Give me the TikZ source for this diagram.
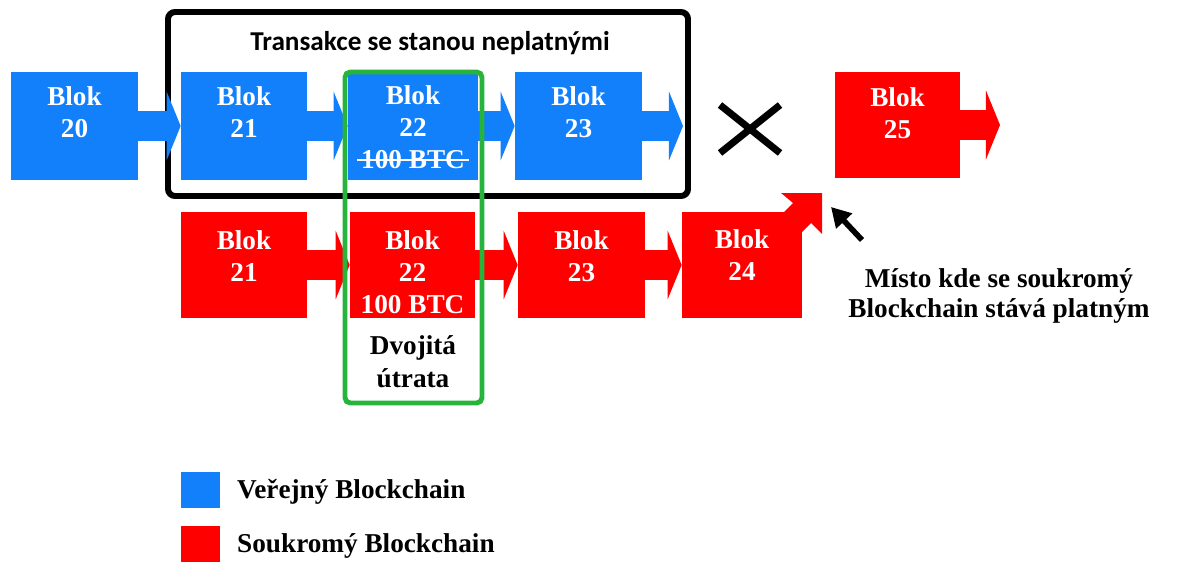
\documentclass[tikz,border=0pt]{standalone}
\usepackage{fontspec}
\setmainfont{Liberation Serif}
\newfontfamily\titlefont{Carlito}
\usetikzlibrary{arrows.meta}
\definecolor{pubblue}{RGB}{18,128,250}
\definecolor{privred}{RGB}{255,0,0}
\definecolor{dsgreen}{RGB}{40,180,60}
\newcommand{\strikeit}[1]{\setbox0\hbox{#1}\rlap{\kern-0.15em\raisebox{0.27em}{\rule{\dimexpr\wd0+0.3em\relax}{1.4pt}}}\box0}
\def\px{0.02cm}
\begin{document}
\begin{tikzpicture}[x=0.02cm,y=-0.02cm,
  blk/.style={inner sep=0pt},
  blktext/.style={inner sep=0pt, align=center, text=white,
    font=\bfseries\fontsize{15.5}{18.3}\selectfont},
  bluebk/.style={blk, fill=pubblue, minimum height=108*\px},
  redbk/.style={blk, fill=privred, minimum height=106*\px},
  bigarrow/.style={line width=17pt, -{Triangle[length=8pt,width=39pt]}},
  serifbold/.style={font=\bfseries\fontsize{15.5}{17}\selectfont},
]
\useasboundingbox (0,0) rectangle (1189,561);

% frame of invalidated transactions
\node[draw=black, line width=3.4pt, rounded corners=4pt, minimum width=520*\px, minimum height=184*\px, inner sep=0pt] (frame) at (428,104) {};
\node[font=\titlefont\bfseries\fontsize{15.5}{18}\selectfont] (title) at (430,43) {Transakce se stanou neplatnými};

% public chain
\node[bluebk, minimum width=127*\px] (b20) at (74.5,126) {};
\node[bluebk, minimum width=126*\px] (b21) at (244,126) {};
\node[bluebk, minimum width=130*\px] (b22) at (413,126) {};
\node[bluebk, minimum width=127*\px] (b23) at (578.5,126) {};
\coordinate (bend) at (683,126);

\node[blktext] (b20t) at (74.5,112) {Blok\\20};
\node[blktext] (b21t) at (244,112) {Blok\\21};
\node[blktext] (b22t) at (413,127) {Blok\\22\\\strikeit{100 BTC}};
\node[blktext] (b23t) at (578.5,112) {Blok\\23};

\draw[bigarrow, pubblue] (b20.east) -- (b21.west);
\draw[bigarrow, pubblue] (b21.east) -- (b22.west);
\draw[bigarrow, pubblue] (b22.east) -- (b23.west);
\draw[bigarrow, pubblue] (b23.east) -- (bend);

% cross
\draw[line width=4pt] (720,105) -- (780,153);
\draw[line width=4pt] (720,153) -- (780,105);

% block 25
\node[redbk, minimum width=125*\px] (r25) at (897.5,125) {};
\node[blktext] (r25t) at (897.5,113) {Blok\\25};
\coordinate (rend) at (1000,125);
\draw[bigarrow, privred] (r25.east) -- (rend);

% private chain
\node[redbk, minimum width=126*\px] (r21) at (244,265) {};
\node[redbk, minimum width=125*\px] (r22) at (412.5,265) {};
\node[redbk, minimum width=127*\px] (r23) at (581.5,265) {};
\node[redbk, minimum width=120*\px] (r24) at (742,265) {};

\node[blktext] (r21t) at (244,256) {Blok\\21};
\node[blktext] (r22t) at (412.5,272) {Blok\\22\\100 BTC};
\node[blktext] (r23t) at (581.5,256) {Blok\\23};
\node[blktext] (r24t) at (742,255) {Blok\\24};

\draw[bigarrow, privred] (r21.east) -- (r22.west);
\draw[bigarrow, privred] (r22.east) -- (r23.west);
\draw[bigarrow, privred] (r23.east) -- (r24.west);

% diagonal arrow out of block 24
\fill[privred] (783,213) -- (793,203) -- (781,193) -- (822,193) -- (822,234) -- (811,223) -- (802,232) -- (802,213) -- cycle;

% double spend box
\node[draw=dsgreen, line width=2.8pt, rounded corners=3pt, minimum width=137*\px, minimum height=331*\px, inner sep=0pt] (gbox) at (413.5,237.5) {};
\node[align=center, font=\bfseries\fontsize{15.5}{18.7}\selectfont] (dvo) at (413,362) {Dvojitá\\útrata};

% note
\node[serifbold, align=center] (note) at (999,296) {Místo kde se soukromý\\Blockchain stává platným};
\coordinate (ptail) at (862,240);
\coordinate (ptip) at (831,207);
\draw[line width=3.2pt, -{Triangle[length=11pt,width=12pt]}] (ptail) -- (ptip);

% legend
\node[fill=pubblue, minimum width=39*\px, minimum height=36*\px, inner sep=0pt] (lgb) at (200.5,490) {};
\node[serifbold, anchor=west] (lgbt) at (231,492) {Veřejný Blockchain};
\node[fill=privred, minimum width=39*\px, minimum height=36*\px, inner sep=0pt] (lgr) at (200.5,544) {};
\node[serifbold, anchor=west] (lgrt) at (231,546) {Soukromý Blockchain};
\end{tikzpicture}
\end{document}
